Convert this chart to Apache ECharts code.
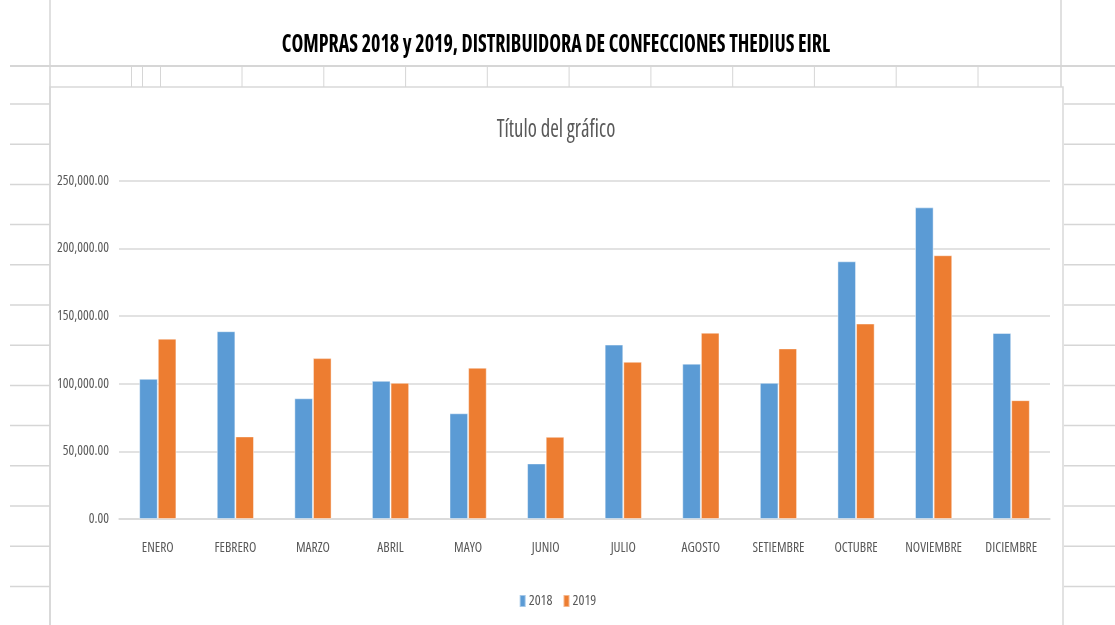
<!DOCTYPE html>
<html>
<head>
<meta charset="utf-8">
<script src="https://cdn.jsdelivr.net/npm/echarts@6/dist/echarts.min.js"></script>
<style>
html,body{margin:0;padding:0;background:#fff;}
#main{width:1115px;height:625px;}
</style>
</head>
<body>
<div id="main"></div>
<script>
var categories = ['ENERO','FEBRERO','MARZO','ABRIL','MAYO','JUNIO','JULIO','AGOSTO','SETIEMBRE','OCTUBRE','NOVIEMBRE','DICIEMBRE'];
var values2018 = [103700, 138900, 89300, 102200, 78200, 41100, 129000, 114900, 100700, 190600, 230500, 137600];
var values2019 = [133400, 61100, 119000, 100700, 111900, 60800, 116300, 137800, 126200, 144600, 195100, 87900];
var yTicks = [0, 50000, 100000, 150000, 200000, 250000];

var FAM = "'Open Sans'";
var COND = 'condensed'; // used as font-stretch in the canvas font string

function fmt(v){
  var s = Math.round(v).toString().replace(/\B(?=(\d{3})+(?!\d))/g, ',');
  return s + '.00';
}

// spreadsheet decoration lines
var deco = [];
var lineColor = '#d6d6d6';
function hline(x1,x2,y,w){deco.push({type:'line',silent:true,shape:{x1:x1,y1:y,x2:x2,y2:y},style:{stroke:lineColor,lineWidth:w||1.5}});}
function vline(x,y1,y2,w){deco.push({type:'line',silent:true,shape:{x1:x,y1:y1,x2:x,y2:y2},style:{stroke:lineColor,lineWidth:w||1.5}});}
hline(10,1115,66,2);
vline(50,0,625,1.5);
vline(1061,0,87,1.5);
var cols=[131.5,142.5,160.5,242,323.8,405.6,487.3,569.1,650.9,732.7,814.4,896.2,978];
cols.forEach(function(x){vline(x,67,87,1);});
for (var k=0;k<13;k++){
  var y = 104 + 40.2*k;
  hline(10,50,y,1.5);
  hline(1064,1115,y,1.5);
}
deco.push({type:'rect',silent:true,shape:{x:50,y:87,width:1013,height:545},style:{fill:'#fff',stroke:'#d9d9d9',lineWidth:1.5},z:-1});

var chart = echarts.init(document.getElementById('main'));
chart.setOption({
  backgroundColor:'#ffffff',
  animation:false,
  graphic: deco.concat([
    {type:'text',x:556,y:45,scaleX:0.8,silent:true,z:10,
     style:{text:'COMPRAS 2018 y 2019, DISTRIBUIDORA DE CONFECCIONES THEDIUS EIRL',x:0,y:0,align:'center',verticalAlign:'middle',
            font:"normal bold condensed 25px 'Open Sans'",fill:'#000'}},
    {type:'text',x:556,y:130,scaleX:0.83,silent:true,z:10,
     style:{text:'Título del gráfico',x:0,y:0,align:'center',verticalAlign:'middle',
            font:"normal normal condensed 25px 'Open Sans'",fill:'#595959'}}
  ]),
  legend:{
    data:['2018','2019'],
    bottom:12, left:'center',
    itemWidth:6, itemHeight:12, itemGap:10,
    icon:'rect',
    textStyle:{fontFamily:FAM,fontWeight:COND,fontSize:14,color:'#595959',padding:[0,0,0,-2]}
  },
  grid:{left:119,right:65,top:181,bottom:106},
  xAxis:{
    type:'category',
    data:categories,
    axisLine:{lineStyle:{color:'#d9d9d9',width:1.5}},
    axisTick:{show:false},
    axisLabel:{fontFamily:FAM,fontWeight:COND,fontSize:13.5,color:'#595959',margin:22,interval:0}
  },
  yAxis:{
    type:'value',
    min:yTicks[0], max:yTicks[yTicks.length-1], interval:50000,
    axisLine:{show:false},
    axisTick:{show:false},
    splitLine:{lineStyle:{color:'#d9d9d9',width:1.5}},
    axisLabel:{fontFamily:FAM,fontWeight:COND,fontSize:13.5,color:'#595959',margin:10,formatter:fmt}
  },
  series:[
    {name:'2018',type:'bar',data:values2018,barGap:'0%',barCategoryGap:'52%',
     itemStyle:{color:'#5B9BD5',borderColor:'rgba(255,255,255,0.45)',borderWidth:1}},
    {name:'2019',type:'bar',data:values2019,barGap:'0%',barCategoryGap:'52%',
     itemStyle:{color:'#ED7D31',borderColor:'rgba(255,255,255,0.45)',borderWidth:1}}
  ]
});
</script>
</body>
</html>
